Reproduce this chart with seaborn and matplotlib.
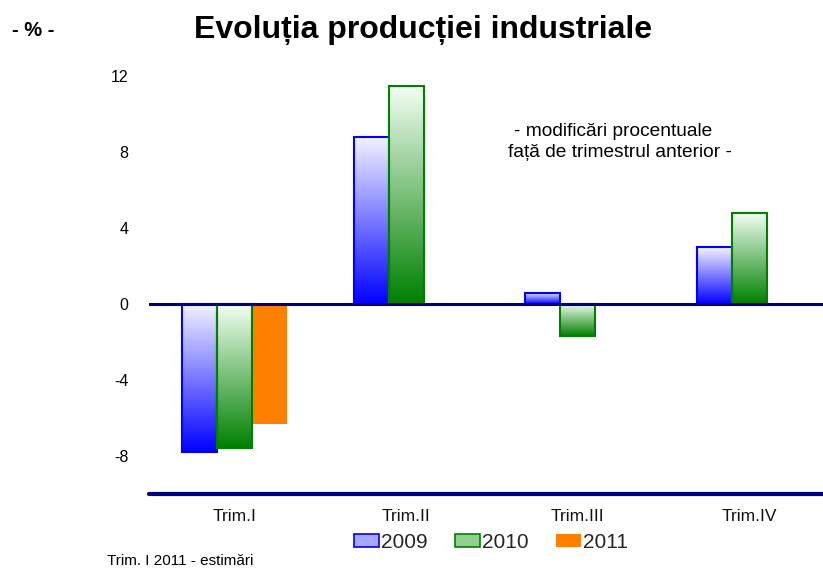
import numpy as np
import pandas as pd
import matplotlib
matplotlib.use("Agg")
import matplotlib.pyplot as plt
from matplotlib.colors import LinearSegmentedColormap
from matplotlib.patches import Patch
import seaborn as sns

categories = ["Trim.I", "Trim.II", "Trim.III", "Trim.IV"]
years = ["2009", "2010", "2011"]
values_2009 = [-7.8, 8.8, 0.6, 3.0]
values_2010 = [-7.6, 11.5, -1.7, 4.8]
values_2011 = [-6.3, np.nan, np.nan, np.nan]
y_ticks = [-8, -4, 0, 4, 8, 12]

df = pd.DataFrame({
    "trim": categories * 3,
    "an": [y for y in years for _ in categories],
    "val": values_2009 + values_2010 + values_2011,
})

sns.set_theme(style="white")
plt.rcParams["font.family"] = ["Liberation Sans", "DejaVu Sans"]

fig = plt.figure(figsize=(8.23, 5.68), dpi=100)
ax = fig.add_axes([149/823, 1-494/568, 674/823, (494-38)/568])

palette = {"2009": "#0000ff", "2010": "#008000", "2011": "#ff8000"}
sns.barplot(data=df.dropna(), x="trim", y="val", hue="an", order=categories,
            hue_order=years, palette=palette, width=0.61, dodge=True,
            errorbar=None, legend=False, ax=ax, saturation=1)

grads = {
    "2009": LinearSegmentedColormap.from_list("b", ["#f4f4ff", "#0000ff"]),
    "2010": LinearSegmentedColormap.from_list("g", ["#f4fff4", "#008000"]),
}
edges = {"2009": "#0000ff", "2010": "#008000"}
grad = np.linspace(0, 1, 256).reshape(-1, 1)

xlim = (-0.5, -0.5 + 674/171.5)
ylim = (-10, 14)
for yr, cont in zip(years, ax.containers):
    for p in cont.patches:
        if yr in grads:
            x, y0, w, h = p.get_x(), p.get_y(), p.get_width(), p.get_height()
            if not np.isfinite(h) or h == 0:
                continue
            top, bot = max(y0, y0 + h), min(y0, y0 + h)
            im = ax.imshow(grad, cmap=grads[yr], extent=[x, x + w, bot, top],
                           origin="upper", aspect="auto", zorder=2)
            im.set_clip_path(p)
            p.set_facecolor("none")
            p.set_edgecolor(edges[yr])
            p.set_linewidth(1.5)
            p.set_zorder(3)
        else:
            p.set_edgecolor("none")

ax.set_xlim(*xlim)
ax.set_ylim(*ylim)
ax.axhline(0, color="#000080", lw=2.2, zorder=4)
ax.axhline(-10, color="#000080", lw=3, zorder=4, clip_on=False)

for s in ax.spines.values():
    s.set_visible(False)
ax.set_yticks(y_ticks)
ax.set_yticklabels([str(t) for t in y_ticks], fontsize=11.5, color="#000000")
ax.tick_params(axis="y", length=0, pad=15)
ax.tick_params(axis="x", length=0, pad=11, labelsize=12.5, labelcolor="#111111")
ax.set_xlabel("")
ax.set_ylabel("")
ax.grid(False)

fig.text(423/823, 1-30/568, "Evoluția producției industriale", ha="center",
         va="center", fontsize=23, fontweight="bold", color="#000000")
fig.text(12/823, 1-31/568, "- % -", ha="left", va="center", fontsize=14.5,
         fontweight="bold", color="#000000")
fig.text(613/823, 1-131/568, "- modificări procentuale", ha="center", va="center",
         fontsize=13.8, color="#000000")
fig.text(620/823, 1-153/568, "față de trimestrul anterior -", ha="center", va="center",
         fontsize=13.8, color="#000000")
fig.text(107/823, 1-561/568, "Trim. I 2011 - estimări", ha="left", va="center",
         fontsize=11, color="#000000")

handles = [Patch(facecolor="#a8a8ff", edgecolor="#0000ff", lw=1.2),
           Patch(facecolor="#8fd08f", edgecolor="#008000", lw=1.2),
           Patch(facecolor="#ff8000", edgecolor="none")]
fig.legend(handles, years, loc="center", bbox_to_anchor=(491/823, 1-542/568),
           ncol=3, frameon=False, fontsize=15, handlelength=1.2, handleheight=0.58,
           handletextpad=0.1, columnspacing=1.3, borderpad=0.1)

fig.savefig("out.png", dpi=100)
